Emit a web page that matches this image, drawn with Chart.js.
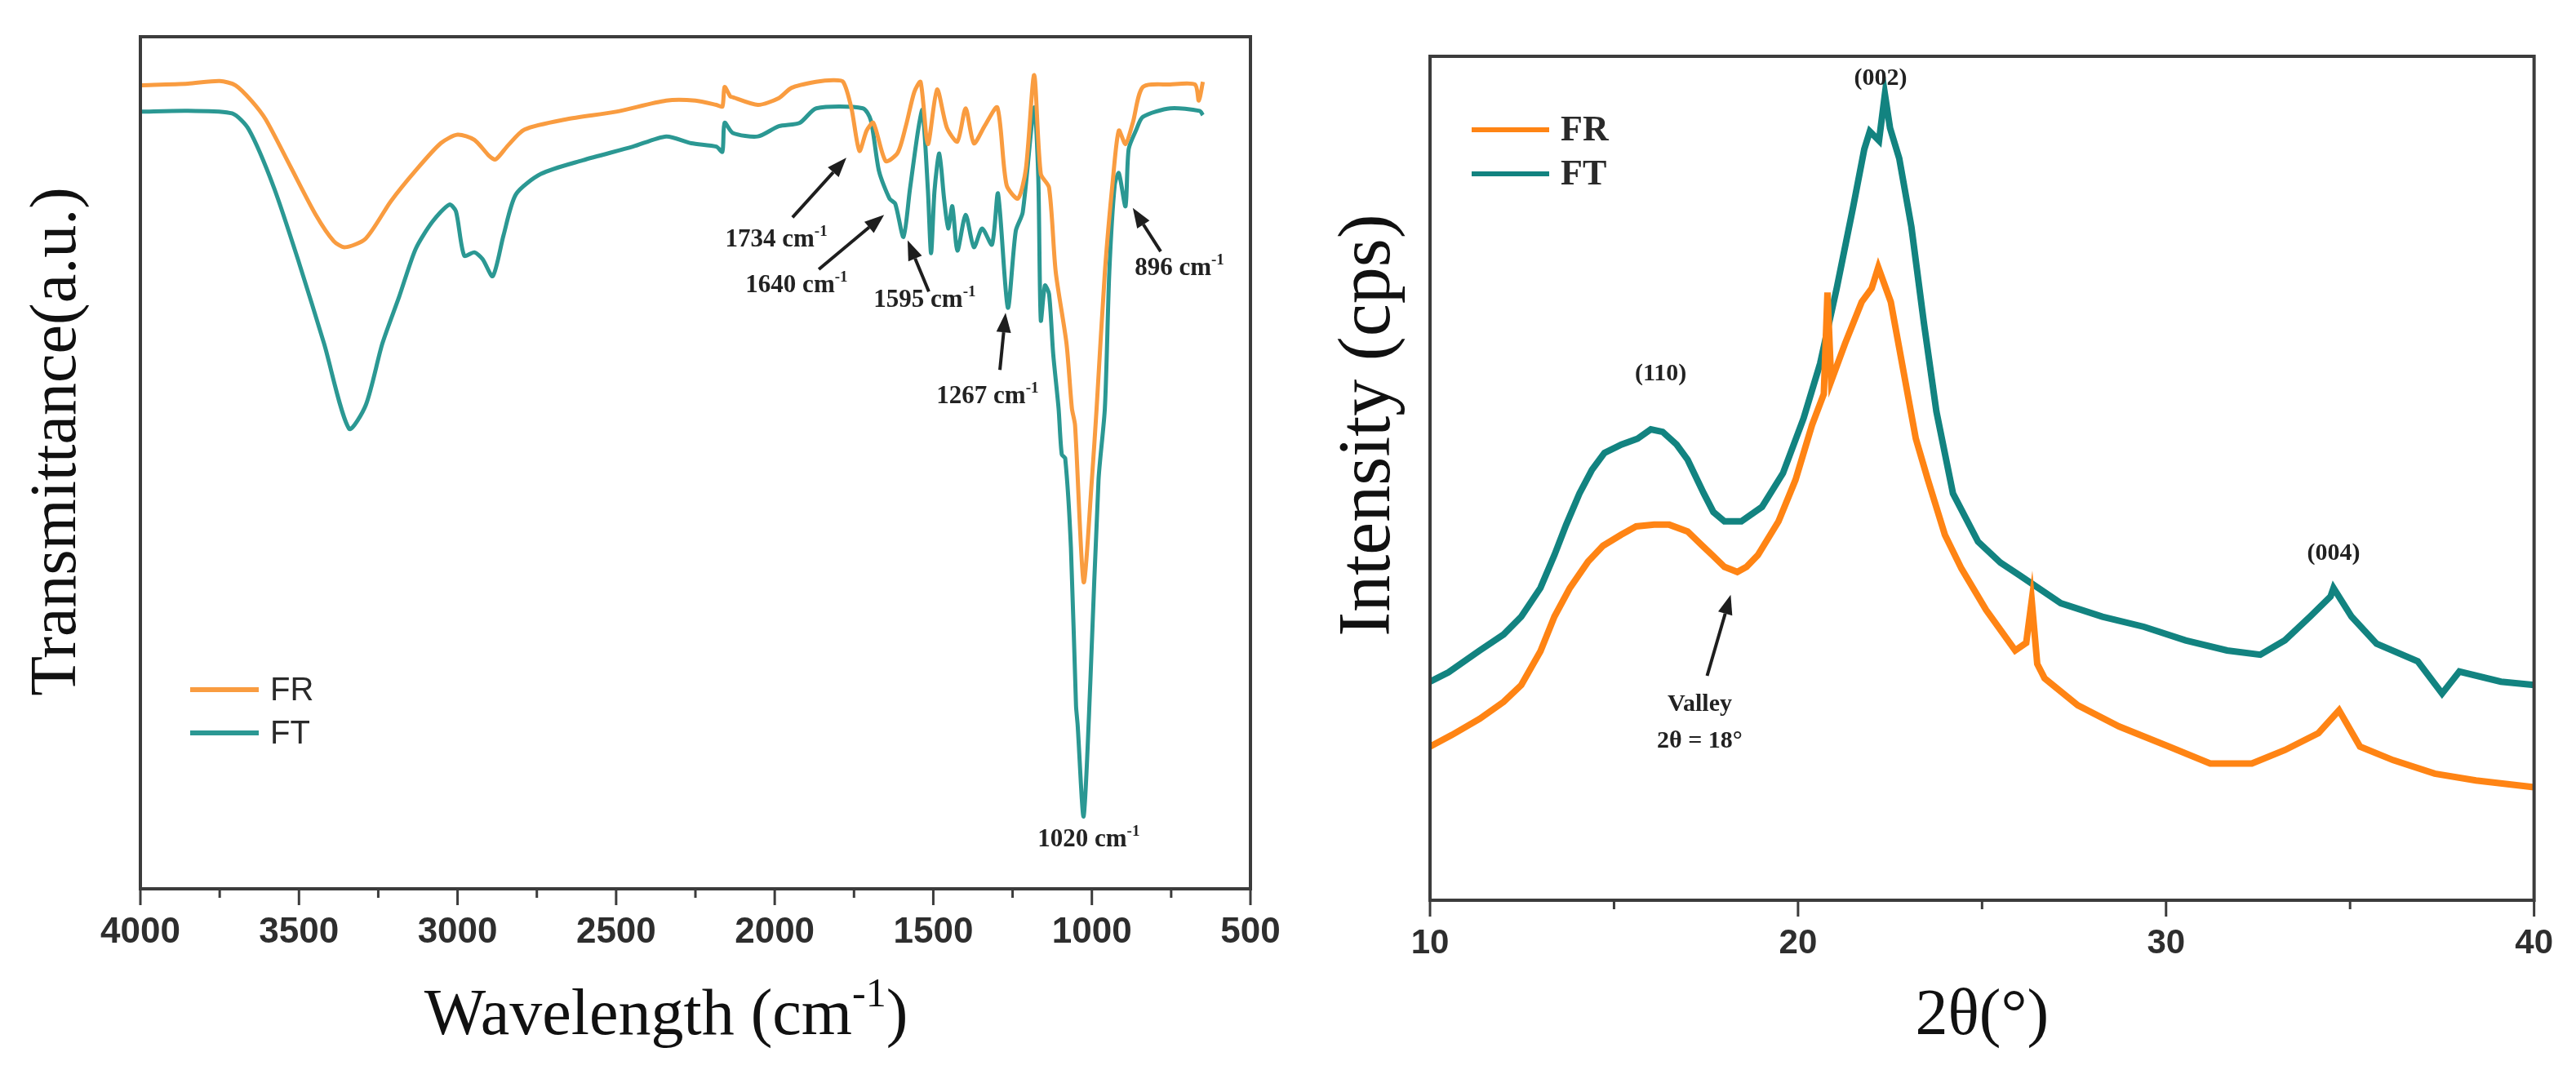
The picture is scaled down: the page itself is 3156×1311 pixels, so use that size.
<!DOCTYPE html>
<html>
<head>
<meta charset="utf-8">
<title>FTIR and XRD of FR / FT</title>
<script src="https://cdn.jsdelivr.net/npm/chart.js@4.4.1/dist/chart.umd.min.js"></script>
<style>
  html, body { margin: 0; padding: 0; background: #fff; }
  #page { position: relative; width: 3156px; height: 1311px; overflow: hidden; }
  #ftir { position: absolute; left: 0; top: 0; }
  #xrd { position: absolute; left: 1620px; top: 0; }
</style>
</head>
<body>
<div id="page">
  <canvas id="ftir" width="1620" height="1311"></canvas>
  <canvas id="xrd" width="1536" height="1311"></canvas>
</div>
<script>
// ---- FTIR spectra (wavenumber cm-1, transmittance a.u.) ----
const frWave = [4000, 3850, 3750, 3700, 3650, 3605, 3526, 3447, 3390, 3355, 3290, 3210, 3132, 3053, 3000, 2947, 2900, 2880, 2842, 2789, 2658, 2500, 2342, 2250, 2184, 2165, 2158, 2140, 2132, 2053, 1987, 1947, 1870, 1816, 1784, 1758, 1733, 1710, 1689, 1650, 1612, 1586, 1560, 1540, 1517, 1488, 1457, 1424, 1398, 1372, 1337, 1298, 1269, 1233, 1208, 1182, 1161, 1135, 1114, 1080, 1063, 1053, 1026, 1000, 985, 959, 933, 915, 894, 871, 839, 753, 675, 663, 650];
const frTrans = [94.3, 94.5, 94.8, 94.3, 92.5, 90.3, 84.7, 79.1, 76.0, 75.3, 76.3, 80.7, 84.3, 87.5, 88.5, 87.9, 86.0, 85.6, 87.2, 89.1, 90.3, 91.2, 92.5, 92.5, 92.0, 91.8, 94.1, 93.0, 92.9, 92.0, 92.8, 94.0, 94.7, 94.9, 94.7, 91.6, 86.6, 89.0, 89.9, 85.4, 86.4, 89.6, 93.5, 94.7, 87.4, 93.8, 89.3, 87.7, 91.6, 87.5, 89.6, 91.7, 82.6, 81.0, 84.5, 95.5, 83.9, 82.3, 72.4, 64.0, 56.4, 54.4, 36.0, 48.0, 56.4, 72.4, 83.5, 89.0, 87.4, 89.9, 94.1, 94.4, 94.4, 92.5, 94.7];

const ftWave = [4000, 3850, 3711, 3658, 3579, 3500, 3421, 3342, 3289, 3237, 3184, 3132, 3079, 3026, 3005, 2979, 2947, 2921, 2889, 2855, 2816, 2737, 2605, 2447, 2342, 2263, 2184, 2165, 2158, 2132, 2053, 1987, 1921, 1869, 1722, 1697, 1671, 1638, 1620, 1594, 1574, 1548, 1534, 1517, 1507, 1496, 1481, 1466, 1453, 1440, 1424, 1398, 1372, 1346, 1315, 1296, 1265, 1240, 1218, 1182, 1169, 1161, 1148, 1135, 1122, 1105, 1095, 1084, 1066, 1050, 1045, 1026, 1005, 979, 959, 945, 928, 915, 894, 884, 861, 839, 753, 660, 650];
const ftTrans = [91.2, 91.3, 91.0, 89.1, 82.3, 73.5, 64.0, 54.0, 56.8, 64.0, 69.5, 75.1, 78.3, 80.3, 79.5, 74.3, 74.7, 73.9, 71.9, 76.7, 81.5, 83.9, 85.5, 87.1, 88.3, 87.5, 87.1, 86.5, 89.9, 88.7, 88.3, 89.5, 89.9, 91.6, 91.6, 90.2, 84.2, 81.0, 80.4, 76.5, 82.0, 89.0, 91.4, 82.0, 74.6, 82.0, 86.3, 81.0, 77.5, 80.1, 74.9, 79.1, 75.3, 77.5, 75.6, 81.6, 68.2, 77.2, 79.4, 91.7, 83.5, 66.7, 70.8, 69.8, 62.8, 56.4, 51.0, 50.5, 40.0, 21.5, 19.3, 8.5, 24.1, 48.0, 56.4, 72.4, 82.6, 84.0, 80.1, 86.8, 89.0, 90.6, 91.6, 91.3, 90.8];

const ftirTicks = [500, 1000, 1500, 2000, 2500, 3000, 3500, 4000];
const ftirMinorTicks = [750, 1250, 1750, 2250, 2750, 3250, 3750];

// ---- XRD patterns (2 theta, intensity cps) ----
const frTheta = [10.0, 10.6, 11.35, 12.0, 12.48, 13.0, 13.38, 13.8, 14.29, 14.7, 15.19, 15.6, 16.09, 16.5, 17.0, 17.4, 17.67, 18.0, 18.35, 18.6, 18.91, 19.47, 19.93, 20.38, 20.7, 20.8, 20.9, 21.28, 21.73, 22.0, 22.18, 22.52, 22.86, 23.2, 23.53, 23.99, 24.44, 25.11, 25.9, 26.2, 26.35, 26.5, 26.7, 27.6, 28.72, 30.08, 31.2, 32.33, 33.23, 34.14, 34.7, 35.27, 36.17, 37.3, 38.42, 40.0];
const frCounts = [18.2, 19.6, 21.5, 23.5, 25.5, 29.5, 33.6, 37.0, 40.1, 42.0, 43.3, 44.3, 44.5, 44.5, 43.7, 42.0, 40.9, 39.5, 38.9, 39.5, 40.9, 44.9, 49.8, 56.3, 60.0, 72.0, 61.5, 66.0, 70.9, 72.5, 75.0, 70.9, 62.8, 54.7, 49.8, 43.3, 39.3, 34.4, 29.6, 30.5, 35.5, 28.0, 26.3, 23.1, 20.6, 18.2, 16.2, 16.2, 17.8, 19.8, 22.5, 18.2, 16.6, 15.0, 14.2, 13.4];

const ftTheta = [10.0, 10.5, 11.35, 12.0, 12.48, 13.0, 13.38, 13.7, 14.06, 14.4, 14.74, 15.2, 15.64, 16.0, 16.32, 16.7, 17.0, 17.44, 17.7, 18.0, 18.46, 19.02, 19.59, 20.15, 20.6, 21.05, 21.5, 21.8, 21.95, 22.2, 22.36, 22.5, 22.75, 23.08, 23.42, 23.76, 24.21, 24.89, 25.5, 26.02, 27.14, 28.27, 29.4, 30.53, 31.66, 32.56, 33.23, 33.91, 34.47, 34.55, 35.04, 35.72, 36.84, 37.5, 37.97, 39.1, 40.0];
const ftCounts = [25.9, 27.0, 29.6, 31.5, 33.6, 37.0, 40.9, 44.5, 48.2, 51.0, 53.0, 54.0, 54.7, 55.8, 55.5, 54.0, 52.2, 48.2, 46.0, 44.9, 44.9, 46.6, 50.6, 57.1, 63.6, 72.5, 82.2, 89.0, 91.1, 90.0, 95.5, 91.5, 87.9, 79.8, 68.4, 57.9, 48.2, 42.5, 40.0, 38.5, 35.2, 33.6, 32.4, 30.8, 29.6, 29.1, 30.8, 33.6, 36.0, 37.0, 33.6, 30.4, 28.3, 24.5, 27.1, 25.9, 25.5];

const xrdTicks = [10, 20, 30, 40];
const xrdMinorTicks = [15, 25, 35];

const serif = '"Liberation Serif", "Times New Roman", serif';
const sans = '"Liberation Sans", Arial, sans-serif';

function toPoints(xs, ys) {
    return xs.map((v, i) => ({ x: v, y: ys[i] }));
}

// text with superscript pieces: parts = [[text, isSup], ...]
function drawRich(ctx, parts, x, y, size, family, weight) {
    const supSize = Math.round(size * 0.62);
    const fontOf = p => (weight || 'normal') + ' ' + (p[1] ? supSize : size) + 'px ' + family;
    let w = 0;
    parts.forEach(p => { ctx.font = fontOf(p); w += ctx.measureText(p[0]).width; });
    let cx = x - w / 2;
    ctx.textAlign = 'left';
    ctx.textBaseline = 'alphabetic';
    parts.forEach(p => {
        ctx.font = fontOf(p);
        ctx.fillText(p[0], cx, p[1] ? y - size * 0.42 : y);
        cx += ctx.measureText(p[0]).width;
    });
}

function drawArrow(ctx, x1, y1, x2, y2) {
    const ang = Math.atan2(y2 - y1, x2 - x1);
    const head = 24, half = 9;
    const bx = x2 - head * Math.cos(ang), by = y2 - head * Math.sin(ang);
    ctx.strokeStyle = '#1e1e1e';
    ctx.fillStyle = '#1e1e1e';
    ctx.lineWidth = 4;
    ctx.beginPath();
    ctx.moveTo(x1, y1);
    ctx.lineTo(bx, by);
    ctx.stroke();
    ctx.beginPath();
    ctx.moveTo(x2, y2);
    ctx.lineTo(bx + half * Math.sin(ang), by - half * Math.cos(ang));
    ctx.lineTo(bx - half * Math.sin(ang), by + half * Math.cos(ang));
    ctx.closePath();
    ctx.fill();
}

// box around the plot, outward ticks on the bottom axis, axis titles
const framePlugin = {
    id: 'frame',
    afterDraw(chart, args, opts) {
        const { ctx, chartArea: a } = chart;
        const xs = chart.scales.x;
        ctx.save();
        ctx.strokeStyle = '#3c3c3c';
        ctx.lineWidth = 4;
        ctx.strokeRect(a.left, a.top, a.right - a.left, a.bottom - a.top);
        ctx.lineWidth = 3;
        ctx.beginPath();
        opts.major.forEach(v => {
            const px = xs.getPixelForValue(v);
            ctx.moveTo(px, a.bottom);
            ctx.lineTo(px, a.bottom + 20);
        });
        opts.minor.forEach(v => {
            const px = xs.getPixelForValue(v);
            ctx.moveTo(px, a.bottom);
            ctx.lineTo(px, a.bottom + 11);
        });
        ctx.stroke();

        ctx.fillStyle = '#111';
        drawRich(ctx, opts.xTitle, (a.left + a.right) / 2 + opts.xTitleDx, a.bottom + opts.xTitleDy, 80, serif);
        ctx.translate(a.left + opts.yTitleDx, (a.top + a.bottom) / 2 + opts.yTitleDy);
        ctx.rotate(-Math.PI / 2);
        drawRich(ctx, opts.yTitle, 0, 0, opts.yTitleSize, serif);
        ctx.restore();
    }
};

// legend drawn inside the plot area
const insideLegend = {
    id: 'insideLegend',
    afterDraw(chart, args, opts) {
        const { ctx, chartArea: a } = chart;
        ctx.save();
        chart.data.datasets.forEach((ds, i) => {
            const y = a.top + opts.top + i * opts.gap;
            ctx.strokeStyle = ds.borderColor;
            ctx.lineWidth = 6;
            ctx.beginPath();
            ctx.moveTo(a.left + opts.left, y);
            ctx.lineTo(a.left + opts.left + opts.lineLen, y);
            ctx.stroke();
            ctx.fillStyle = '#2a2a2a';
            ctx.font = opts.font;
            ctx.textAlign = 'left';
            ctx.textBaseline = 'middle';
            ctx.fillText(ds.label, a.left + opts.left + opts.lineLen + 14, y + 2);
        });
        ctx.restore();
    }
};

// peak labels and arrows, placed in data units
const peakNotes = {
    id: 'peakNotes',
    afterDatasetsDraw(chart, args, opts) {
        const { ctx, scales: { x, y } } = chart;
        ctx.save();
        (opts.arrows || []).forEach(r => drawArrow(ctx,
            x.getPixelForValue(r[0]), y.getPixelForValue(r[1]),
            x.getPixelForValue(r[2]), y.getPixelForValue(r[3])));
        ctx.fillStyle = '#222';
        (opts.labels || []).forEach(l => drawRich(ctx, l.parts,
            x.getPixelForValue(l.x), y.getPixelForValue(l.y), opts.size, serif, opts.weight));
        ctx.restore();
    }
};

function xAxis(min, max, step, reverse, fontSize, pad, height) {
    return {
        type: 'linear',
        min: min,
        max: max,
        reverse: reverse,
        grid: { display: false, drawTicks: false },
        border: { display: false },
        ticks: {
            stepSize: step,
            autoSkip: false,
            maxRotation: 0,
            padding: pad,
            color: '#2e2e2e',
            font: { family: sans, size: fontSize, weight: 'bold' },
            callback: value => String(value)
        },
        afterFit: s => { s.height = height; }
    };
}

document.addEventListener('DOMContentLoaded', function() {
    Chart.defaults.animation = false;

    new Chart(document.getElementById('ftir').getContext('2d'), {
        type: 'line',
        data: {
            datasets: [{
                label: 'FR',
                data: toPoints(frWave, frTrans),
                borderColor: '#f99c40',
                borderWidth: 5,
                pointRadius: 0,
                tension: 0.25,
                fill: false
            }, {
                label: 'FT',
                data: toPoints(ftWave, ftTrans),
                borderColor: '#2b9893',
                borderWidth: 5,
                pointRadius: 0,
                tension: 0.25,
                fill: false
            }]
        },
        options: {
            responsive: false,
            devicePixelRatio: 1,
            layout: { padding: { left: 172, right: 88, top: 45, bottom: 0 } },
            scales: {
                x: xAxis(500, 4000, 500, true, 44, 27, 222),
                y: { display: false, min: 0, max: 100 }
            },
            plugins: {
                legend: { display: false },
                tooltip: { enabled: false },
                frame: {
                    major: ftirTicks,
                    minor: ftirMinorTicks,
                    xTitle: [['Wavelength (cm', false], ['-1', true], [')', false]],
                    xTitleDx: -36,
                    xTitleDy: 178,
                    yTitle: [['Transmittance(a.u.)', false]],
                    yTitleSize: 80,
                    yTitleDx: -80,
                    yTitleDy: -26
                },
                insideLegend: { left: 61, top: 800, gap: 53, lineLen: 84, font: '40px ' + sans },
                peakNotes: {
                    size: 31,
                    weight: 'bold',
                    labels: [
                        { x: 1995, y: 75.4, parts: [['1734 cm', false], ['-1', true]] },
                        { x: 1931, y: 70.0, parts: [['1640 cm', false], ['-1', true]] },
                        { x: 1527, y: 68.3, parts: [['1595 cm', false], ['-1', true]] },
                        { x: 1329, y: 57.0, parts: [['1267 cm', false], ['-1', true]] },
                        { x: 724, y: 72.0, parts: [['896 cm', false], ['-1', true]] },
                        { x: 1010, y: 5.0, parts: [['1020 cm', false], ['-1', true]] }
                    ],
                    arrows: [
                        [1944, 78.8, 1774, 85.8],
                        [1861, 72.7, 1655, 79.1],
                        [1514, 70.1, 1581, 76.1],
                        [1290, 60.9, 1272, 67.6],
                        [783, 74.8, 871, 79.9]
                    ]
                }
            }
        },
        plugins: [framePlugin, insideLegend, peakNotes]
    });

    new Chart(document.getElementById('xrd').getContext('2d'), {
        type: 'line',
        data: {
            datasets: [{
                label: 'FR',
                data: toPoints(frTheta, frCounts),
                borderColor: '#ff8414',
                borderWidth: 8,
                pointRadius: 0,
                tension: 0,
                fill: false
            }, {
                label: 'FT',
                data: toPoints(ftTheta, ftCounts),
                borderColor: '#128380',
                borderWidth: 8,
                pointRadius: 0,
                tension: 0,
                fill: false
            }]
        },
        options: {
            responsive: false,
            devicePixelRatio: 1,
            layout: { padding: { left: 132, right: 49, top: 69, bottom: 0 } },
            scales: {
                x: xAxis(10, 40, 10, false, 42, 28, 208),
                y: { display: false, min: 0, max: 100 }
            },
            plugins: {
                legend: { display: false },
                tooltip: { enabled: false },
                frame: {
                    major: xrdTicks,
                    minor: xrdMinorTicks,
                    xTitle: [['2θ(°)', false]],
                    xTitleDx: 0,
                    xTitleDy: 164,
                    yTitle: [['Intensity (cps)', false]],
                    yTitleSize: 90,
                    yTitleDx: -50,
                    yTitleDy: -65
                },
                insideLegend: { left: 51, top: 90, gap: 54, lineLen: 95, font: 'bold 44px ' + serif },
                peakNotes: {
                    size: 30,
                    weight: 'bold',
                    labels: [
                        { x: 22.24, y: 96.6, parts: [['(002)', false]] },
                        { x: 16.27, y: 61.6, parts: [['(110)', false]] },
                        { x: 34.55, y: 40.3, parts: [['(004)', false]] },
                        { x: 17.33, y: 22.4, parts: [['Valley', false]] },
                        { x: 17.33, y: 18.1, parts: [['2θ = 18°', false]] }
                    ],
                    arrows: [
                        [17.53, 26.6, 18.17, 36.2]
                    ]
                }
            }
        },
        plugins: [framePlugin, insideLegend, peakNotes]
    });
});
</script>
</body>
</html>
